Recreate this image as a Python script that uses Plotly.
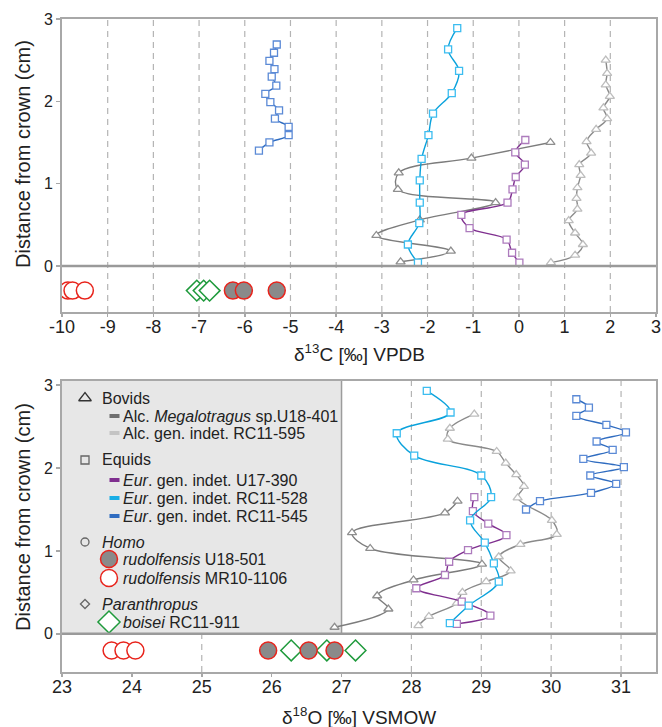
import plotly.graph_objects as go

# ---------------- data ----------------
# Upper panel: delta13C [per mil] VPDB vs distance from crown (cm)
C13_U18401_X = [-2.59, -1.49, -3.12, -2.17, -0.51, -2.65, -2.63, -1.04, 0.69]
C13_U18401_Y = [0.05, 0.18, 0.37, 0.56, 0.77, 0.93, 1.13, 1.31, 1.50]
C13_RC11595_X = [0.70, 1.23, 1.40, 1.23, 1.09, 1.28, 1.26, 1.28, 1.35, 1.32,
                 1.58, 1.48, 1.69, 1.93, 1.85, 1.99, 1.90, 1.93, 1.90]
C13_RC11595_Y = [0.04, 0.13, 0.26, 0.40, 0.55, 0.69, 0.82, 0.95, 1.10, 1.23,
                 1.37, 1.51, 1.66, 1.79, 1.92, 2.06, 2.20, 2.34, 2.50]
C13_U17390_X = [0.01, -0.15, -0.27, -1.08, -1.26, -0.25, -0.14, -0.07, 0.13, -0.08, 0.14]
C13_U17390_Y = [0.04, 0.16, 0.32, 0.46, 0.62, 0.77, 0.93, 1.08, 1.23, 1.38, 1.53]
C13_RC11528_X = [-2.21, -2.43, -2.18, -2.17, -2.17, -2.13, -1.98, -1.88, -1.47, -1.31, -1.55, -1.35]
C13_RC11528_Y = [0.04, 0.26, 0.52, 0.77, 1.04, 1.30, 1.59, 1.85, 2.10, 2.37, 2.63, 2.89]
C13_RC11545_X = [-5.69, -5.46, -5.04, -5.04, -5.34, -5.25, -5.44, -5.55, -5.31, -5.41,
                 -5.35, -5.46, -5.36, -5.30]
C13_RC11545_Y = [1.40, 1.50, 1.59, 1.69, 1.79, 1.89, 1.99, 2.09, 2.19, 2.30,
                 2.39, 2.49, 2.59, 2.69]
C13_HOMO_U18501 = [-6.26, -6.02, -5.30]
C13_HOMO_MR101106 = [-9.87, -9.77, -9.50]
C13_P_BOISEI = [-7.05, -6.90, -6.77]
HOMININ_Y_TOP = -0.30

# Lower panel: delta18O [per mil] VSMOW vs distance from crown (cm)
O18_U18401_X = [26.90, 27.67, 27.51, 28.03, 29.01, 27.41, 27.15, 28.48, 28.66]
O18_U18401_Y = [0.08, 0.30, 0.46, 0.65, 0.84, 1.03, 1.22, 1.46, 1.60]
O18_RC11595_X = [28.10, 28.25, 28.65, 28.73, 29.07, 29.42, 29.25, 29.56, 30.08, 30.01,
                 29.52, 29.61, 29.50, 29.35, 29.22, 28.52, 28.55, 28.90]
O18_RC11595_Y = [0.10, 0.21, 0.37, 0.50, 0.63, 0.76, 0.93, 1.08, 1.20, 1.37,
                 1.64, 1.78, 1.92, 2.06, 2.20, 2.35, 2.48, 2.65]
O18_U17390_X = [28.65, 29.13, 28.72, 28.07, 28.48, 28.54, 28.81, 29.36, 29.10, 28.88, 28.90]
O18_U17390_Y = [0.12, 0.22, 0.39, 0.55, 0.71, 0.87, 1.01, 1.19, 1.33, 1.48, 1.65]
O18_RC11528_X = [28.55, 28.82, 29.25, 29.18, 29.05, 28.84, 29.14, 29.00, 28.04, 27.79, 28.56, 28.22]
O18_RC11528_Y = [0.13, 0.34, 0.63, 0.85, 1.10, 1.37, 1.65, 1.91, 2.15, 2.42, 2.67, 2.93]
O18_RC11545_X = [29.64, 29.84, 30.57, 30.93, 30.56, 31.04, 30.46, 30.88, 30.65, 31.07,
                 30.79, 30.36, 30.54, 30.36]
O18_RC11545_Y = [1.50, 1.60, 1.70, 1.81, 1.91, 2.01, 2.11, 2.22, 2.32, 2.43,
                 2.52, 2.63, 2.73, 2.83]
O18_HOMO_U18501 = [25.95, 26.53, 26.90]
O18_HOMO_MR101106 = [23.71, 23.88, 24.05]
O18_P_BOISEI = [26.28, 26.79, 27.20]
HOMININ_Y_BOTTOM = -0.20

# Axis ticks
TOP_XTICKS = list(range(-10, 4))
TOP_XTICKTEXT = [str(v) for v in TOP_XTICKS]
BOTTOM_XTICKS = list(range(23, 32))
BOTTOM_XTICKTEXT = [str(v) for v in BOTTOM_XTICKS]
Y_TICKS = [0, 1, 2, 3]
TOP_GRID_X = list(range(-9, 3))
BOTTOM_GRID_X = [25, 28, 29, 30, 31]

# Legend entries
LEGEND_ROWS = [
    ("header", "triangle-up-open", "Bovids"),
    ("line", "#6f6f6f", "Alc. <i>Megalotragus</i> sp.U18-401"),
    ("line", "#c4c4c4", "Alc. gen. indet. RC11-595"),
    ("header", "square-open", "Equids"),
    ("line", "#7f2f8f", "<i>Eur</i>. gen. indet. U17-390"),
    ("line", "#19aee6", "<i>Eur</i>. gen. indet. RC11-528"),
    ("line", "#2f6cc0", "<i>Eur</i>. gen. indet. RC11-545"),
    ("header", "circle-open", "<i>Homo</i>"),
    ("homo_fill", None, "<i>rudolfensis</i> U18-501"),
    ("homo_open", None, "<i>rudolfensis</i> MR10-1106"),
    ("header", "diamond-open", "<i>Paranthropus</i>"),
    ("boisei", None, "<i>boisei</i> RC11-911"),
]
LEGEND_ROW_PY = [398, 416, 433, 460, 480, 498, 516, 542, 559, 578, 604, 622]

# ---------------- styles / layout ----------------
FONT = "Liberation Sans, Arial, sans-serif"
W, H = 662, 727
PL, PR, PT, PB = 62, 656, 19, 672
TOP_BOTTOM_PX = 312
BOT_TOP_PX = 381
TOP_YRANGE = [-0.56, 3.0]
BOT_YRANGE = [-0.46, 3.05]
TOP_XRANGE = [-10, 3]
BOT_XRANGE = [23, 31.5]

FRAME = "#a8a8a8"
GRID = "#b4b4b4"
RED = "#e8241c"
GREEN = "#1f9a3c"
HFILL = "#8a8a8a"
LEGEND_FONT_SIZE = 16

SERIES_STYLE = {
    "U18401": dict(line="#7c7c7c", mk="#8e8e8e", sym="triangle-up", size=8),
    "RC11595": dict(line="#8a8a8a", mk="#bdbdbd", sym="triangle-up", size=8),
    "U17390": dict(line="#7f2f8f", mk="#ad7bbd", sym="square", size=7),
    "RC11528": dict(line="#0aa2dc", mk="#3cbdf0", sym="square", size=7),
    "RC11545": dict(line="#2f6cc0", mk="#5b8ad6", sym="square", size=7),
}


def fx(p):
    return (p - PL) / (PR - PL)


def fy(p):
    return (PB - p) / (PB - PT)


def bot_data_x(p):
    return BOT_XRANGE[0] + (p - PL) / (PR - PL) * (BOT_XRANGE[1] - BOT_XRANGE[0])


def bot_data_y(p):
    return BOT_YRANGE[1] - (p - BOT_TOP_PX) / (PB - BOT_TOP_PX) * (BOT_YRANGE[1] - BOT_YRANGE[0])


fig = go.Figure()


def add_series(x, y, key, xa, ya):
    s = SERIES_STYLE[key]
    fig.add_trace(go.Scatter(
        x=x, y=y, mode="lines+markers", xaxis=xa, yaxis=ya, showlegend=False,
        line=dict(color=s["line"], width=1.4, shape="spline", smoothing=1.0),
        marker=dict(symbol=s["sym"], size=s["size"], color="white",
                    line=dict(color=s["mk"], width=1.3)),
    ))


def add_hominins(homo_fill, homo_open, boisei, yv, xa, ya):
    fig.add_trace(go.Scatter(
        x=boisei, y=[yv] * len(boisei), mode="markers", xaxis=xa, yaxis=ya, showlegend=False,
        marker=dict(symbol="diamond", size=16, color="white", line=dict(color=GREEN, width=1.5))))
    fig.add_trace(go.Scatter(
        x=homo_fill, y=[yv] * len(homo_fill), mode="markers", xaxis=xa, yaxis=ya, showlegend=False,
        marker=dict(symbol="circle", size=17, color=HFILL, line=dict(color=RED, width=1.5))))
    fig.add_trace(go.Scatter(
        x=homo_open, y=[yv] * len(homo_open), mode="markers", xaxis=xa, yaxis=ya, showlegend=False,
        marker=dict(symbol="circle", size=17, color="white", line=dict(color=RED, width=1.5))))


# top panel
add_series(C13_U18401_X, C13_U18401_Y, "U18401", "x", "y")
add_series(C13_RC11595_X, C13_RC11595_Y, "RC11595", "x", "y")
add_series(C13_U17390_X, C13_U17390_Y, "U17390", "x", "y")
add_series(C13_RC11528_X, C13_RC11528_Y, "RC11528", "x", "y")
add_series(C13_RC11545_X, C13_RC11545_Y, "RC11545", "x", "y")
add_hominins(C13_HOMO_U18501, C13_HOMO_MR101106, C13_P_BOISEI, HOMININ_Y_TOP, "x", "y")

# bottom panel
add_series(O18_U18401_X, O18_U18401_Y, "U18401", "x2", "y2")
add_series(O18_RC11595_X, O18_RC11595_Y, "RC11595", "x2", "y2")
add_series(O18_U17390_X, O18_U17390_Y, "U17390", "x2", "y2")
add_series(O18_RC11528_X, O18_RC11528_Y, "RC11528", "x2", "y2")
add_series(O18_RC11545_X, O18_RC11545_Y, "RC11545", "x2", "y2")
add_hominins(O18_HOMO_U18501, O18_HOMO_MR101106, O18_P_BOISEI, HOMININ_Y_BOTTOM, "x2", "y2")

shapes = []
annotations = []

# gridlines
for gx in TOP_GRID_X:
    shapes.append(dict(type="line", xref="x", yref="y domain", x0=gx, x1=gx, y0=0, y1=1,
                       line=dict(color=GRID, width=1.2, dash="6px,5px"), layer="below"))
for gx in BOTTOM_GRID_X:
    shapes.append(dict(type="line", xref="x2", yref="y2 domain", x0=gx, x1=gx, y0=0, y1=1,
                       line=dict(color=GRID, width=1.2, dash="6px,5px"), layer="below"))

# legend box (bottom panel)
shapes.append(dict(type="rect", xref="x2", yref="y2", x0=BOT_XRANGE[0], x1=27, y0=0, y1=BOT_YRANGE[1],
                   fillcolor="#e7e7e7", line=dict(width=0), layer="below"))
shapes.append(dict(type="line", xref="x2", yref="y2", x0=27, x1=27, y0=0, y1=BOT_YRANGE[1],
                   line=dict(color="#9c9c9c", width=1.5), layer="below"))

# zero lines
for xr, yr in (("x domain", "y"), ("x2 domain", "y2")):
    shapes.append(dict(type="line", xref=xr, yref=yr, x0=0, x1=1, y0=0, y1=0,
                       line=dict(color="#9a9a9a", width=2.5), layer="above"))

# legend contents
HDR_PX, SW_PX, TXT_HDR_PX, TXT_PX, MK_PX = 85, 114.5, 100, 121, 109
for (kind, val, text), ypx in zip(LEGEND_ROWS, LEGEND_ROW_PY):
    if kind == "header":
        size = {"triangle-up-open": 11, "square-open": 8, "circle-open": 8, "diamond-open": 7}[val]
        col = "#333333" if val == "triangle-up-open" else "#666666"
        fig.add_trace(go.Scatter(x=[bot_data_x(HDR_PX)], y=[bot_data_y(ypx)], mode="markers",
                                 xaxis="x2", yaxis="y2", showlegend=False,
                                 marker=dict(symbol=val, size=size, color=col, line=dict(width=1.3, color=col))))
        annotations.append(dict(xref="paper", yref="paper", x=fx(TXT_HDR_PX), y=fy(ypx), text=text,
                                showarrow=False, xanchor="left", yanchor="middle",
                                font=dict(family=FONT, size=LEGEND_FONT_SIZE, color="#222")))
    else:
        if kind == "line":
            shapes.append(dict(type="rect", xref="paper", yref="paper",
                               x0=fx(SW_PX - 5), x1=fx(SW_PX + 5), y0=fy(ypx + 2), y1=fy(ypx - 2),
                               fillcolor=val, line=dict(width=0), layer="above"))
        elif kind == "homo_fill":
            fig.add_trace(go.Scatter(x=[bot_data_x(MK_PX)], y=[bot_data_y(ypx)], mode="markers",
                                     xaxis="x2", yaxis="y2", showlegend=False,
                                     marker=dict(symbol="circle", size=17, color=HFILL,
                                                 line=dict(color=RED, width=1.5))))
        elif kind == "homo_open":
            fig.add_trace(go.Scatter(x=[bot_data_x(MK_PX)], y=[bot_data_y(ypx)], mode="markers",
                                     xaxis="x2", yaxis="y2", showlegend=False,
                                     marker=dict(symbol="circle", size=17, color="white",
                                                 line=dict(color=RED, width=1.5))))
        elif kind == "boisei":
            fig.add_trace(go.Scatter(x=[bot_data_x(MK_PX)], y=[bot_data_y(ypx)], mode="markers",
                                     xaxis="x2", yaxis="y2", showlegend=False,
                                     marker=dict(symbol="diamond", size=17, color="white",
                                                 line=dict(color=GREEN, width=1.5))))
        annotations.append(dict(xref="paper", yref="paper", x=fx(TXT_PX), y=fy(ypx), text=text,
                                showarrow=False, xanchor="left", yanchor="middle",
                                font=dict(family=FONT, size=LEGEND_FONT_SIZE, color="#222")))

# axis titles
annotations.append(dict(xref="paper", yref="paper", x=0.5, y=fy(353), text="δ<sup>13</sup>C [‰] VPDB",
                        showarrow=False, xanchor="center", yanchor="middle",
                        font=dict(family=FONT, size=19, color="#222")))
annotations.append(dict(xref="paper", yref="paper", x=0.5, y=fy(716), text="δ<sup>18</sup>O [‰] VSMOW",
                        showarrow=False, xanchor="center", yanchor="middle",
                        font=dict(family=FONT, size=19, color="#222")))
for cy in (154, 517):
    annotations.append(dict(xref="paper", yref="paper", x=fx(23), y=fy(cy), text="Distance from crown (cm)",
                            showarrow=False, xanchor="center", yanchor="middle", textangle=-90,
                            font=dict(family=FONT, size=20, color="#222")))

xaxis_common = dict(showgrid=False, zeroline=False, showline=True, mirror=True, linecolor=FRAME,
                    linewidth=2, ticks="outside", ticklen=3, tickwidth=1.5, tickcolor=FRAME,
                    automargin=False, ticklabelstandoff=-6,
                    tickfont=dict(family=FONT, size=18, color="#222"))
yaxis_common = dict(showgrid=False, zeroline=False, showline=True, mirror=True, linecolor=FRAME,
                    linewidth=2, ticks="outside", ticklen=4, tickwidth=1.5, tickcolor=FRAME,
                    automargin=False,
                    tickfont=dict(family=FONT, size=16, color="#222"))

fig.update_layout(
    width=W, height=H, plot_bgcolor="white", paper_bgcolor="white",
    margin=dict(l=PL, r=W - PR, t=PT, b=H - PB, autoexpand=False),
    showlegend=False, hovermode=False,
    xaxis=dict(xaxis_common, range=TOP_XRANGE, tickvals=TOP_XTICKS, ticktext=TOP_XTICKTEXT,
               anchor="y", domain=[0, 1]),
    yaxis=dict(yaxis_common, range=TOP_YRANGE, tickvals=Y_TICKS, anchor="x",
               domain=[fy(TOP_BOTTOM_PX), 1]),
    xaxis2=dict(xaxis_common, range=BOT_XRANGE, tickvals=BOTTOM_XTICKS, ticktext=BOTTOM_XTICKTEXT,
                anchor="y2", domain=[0, 1]),
    yaxis2=dict(yaxis_common, range=BOT_YRANGE, tickvals=Y_TICKS, anchor="x2",
                domain=[0, fy(BOT_TOP_PX)]),
    shapes=shapes, annotations=annotations,
)

fig.write_html(
    "out.html",
    config={"displayModeBar": False, "staticPlot": True},
    post_script="document.body.style.margin='0px';document.body.style.overflow='hidden';"
                "document.documentElement.style.overflow='hidden';",
)
